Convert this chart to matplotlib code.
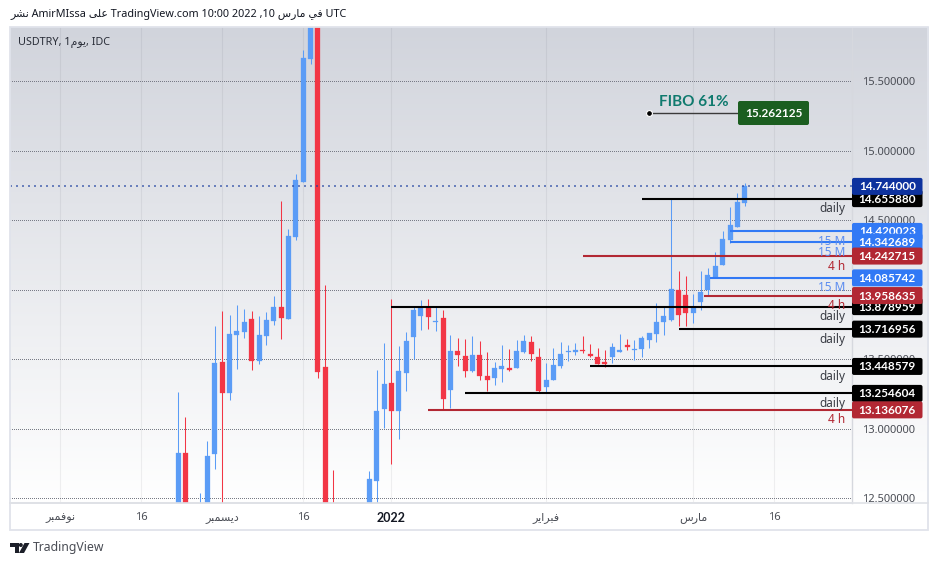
import numpy as np
import matplotlib
matplotlib.use('Agg')
import matplotlib.pyplot as plt
from matplotlib.patches import FancyBboxPatch, Rectangle, Circle, Polygon
from matplotlib.transforms import IdentityTransform

plt.rcParams['font.family'] = ['Noto Sans', 'DejaVu Sans']

W, H = 938, 566

# bar number counted in trading days from 1 Nov 2021
days = [16, 17, 19, 20, 21, 22, 23, 24, 25, 26, 27, 28, 29, 30, 31, 32, 33, 34, 35, 36, 37,
        42, 43, 44, 45, 46, 47, 48, 49, 50, 51, 52, 53, 54, 55, 56, 57, 58, 59, 60, 61, 62,
        63, 64, 65, 66, 67, 68, 69, 70, 71, 72, 73, 74, 75, 76, 77, 78, 79, 80, 81, 82, 83,
        84, 85, 86, 87, 88, 89, 90, 91, 92, 93]
opens = [12.30, 12.826, 12.30, 12.30, 12.819, 13.481, 13.258, 13.675, 13.697, 13.790, 13.488, 13.668,
         13.776, 13.876, 13.790, 14.380, 14.776, 15.661, 16.20, 13.445, 12.40,
         12.30, 12.625, 13.143, 13.330, 13.128, 13.402, 13.661, 13.812, 13.876, 13.768, 13.797,
         13.279, 13.560, 13.524, 13.416, 13.531, 13.380, 13.366, 13.430, 13.438, 13.438,
         13.553, 13.625, 13.517, 13.301, 13.351, 13.452, 13.553, 13.553, 13.567, 13.538, 13.517, 13.481,
         13.517, 13.553, 13.603, 13.567, 13.574, 13.639, 13.682, 13.768, 13.783,
         13.999, 13.963, 13.833, 13.912, 13.999, 14.085, 14.178, 14.358, 14.452, 14.625]
highs = [13.265, 13.085, 12.538, 12.912, 13.740, 13.848, 13.819, 13.891, 13.862, 13.848, 13.812, 13.840,
         13.956, 14.639, 14.438, 14.833, 15.725, 16.30, 16.30, 14.035, 12.704,
         12.697, 13.423, 13.617, 13.934, 13.596, 13.697, 13.884, 13.927, 13.934, 13.884, 13.855,
         13.675, 13.653, 13.646, 13.668, 13.632, 13.553, 13.481, 13.603, 13.574, 13.639,
         13.675, 13.668, 13.581, 13.474, 13.581, 13.625, 13.603, 13.617, 13.668, 13.610, 13.581, 13.567,
         13.617, 13.682, 13.646, 13.639, 13.668, 13.689, 13.905, 13.884, 14.661,
         14.135, 14.099, 13.970, 14.135, 14.157, 14.272, 14.423, 14.596, 14.697, 14.769]
lows = [12.20, 12.20, 12.20, 12.20, 12.711, 12.20, 13.207, 13.430, 13.653, 13.423, 13.466, 13.603,
        13.747, 13.646, 13.790, 14.358, 14.776, 15.625, 13.366, 12.20, 12.10,
        12.20, 12.30, 13.006, 12.747, 12.927, 13.272, 13.502, 13.711, 13.718, 13.704, 13.143,
        13.150, 13.452, 13.373, 13.409, 13.351, 13.272, 13.315, 13.337, 13.416, 13.438,
        13.545, 13.488, 13.258, 13.258, 13.351, 13.438, 13.488, 13.531, 13.545, 13.517, 13.466, 13.445,
        13.474, 13.553, 13.567, 13.495, 13.517, 13.581, 13.625, 13.675, 13.776,
        13.740, 13.740, 13.761, 13.855, 13.963, 14.085, 14.178, 14.337, 14.452, 14.603]
closes = [12.826, 12.30, 12.42, 12.805, 13.474, 13.258, 13.682, 13.704, 13.768, 13.488, 13.675, 13.783,
          13.876, 13.797, 14.387, 14.790, 15.668, 16.20, 13.409, 12.30, 12.20,
          12.639, 13.128, 13.322, 13.128, 13.416, 13.632, 13.855, 13.869, 13.804, 13.776, 13.215,
          13.560, 13.531, 13.416, 13.531, 13.380, 13.351, 13.438, 13.452, 13.423, 13.560,
          13.632, 13.538, 13.272, 13.351, 13.459, 13.538, 13.560, 13.567, 13.560, 13.524, 13.466, 13.466,
          13.589, 13.567, 13.589, 13.574, 13.653, 13.689, 13.768, 13.812, 14.006,
          13.819, 13.833, 13.876, 13.984, 14.107, 14.171, 14.366, 14.466, 14.632, 14.747]

# drawn levels, listed bottom badge first
level_prices = [13.878959, 14.655880, 13.716956, 13.448579, 13.254604, 14.420023, 14.342689,
                14.085742, 14.242715, 13.958635, 13.136076]
level_starts = [45, 79, 84, 72, 55, 91, 91, 88.3, 71, 87.4, 50]
level_kinds = ['daily', 'daily', 'daily', 'daily', 'daily', '15 M', '15 M', '15 M', '4 h', '4 h', '4 h']

last_price = 14.744
fibo_start = (80, 15.272)
fibo_end = (92.2, 15.272)
fibo_value = '15.262125'

price_ticks = [12.5, 13.0, 13.5, 14.0, 14.5, 15.0, 15.5]
# the 14.000000 scale label is not shown in the chart, the badges push it out
price_labels = ['12.500000', '13.000000', '13.500000', '', '14.500000', '15.000000', '15.500000']
date_ticks = [0, 11, 22, 33, 45, 66, 86, 97]
# Arabic month names in shaped visual order
date_labels = ['\ufeae\ufe92\ufee4\ufed3\ufeee\ufee7', '16',
               '\ufeae\ufe92\ufee4\ufeb4\ufef3\ufea9', '16', '2022',
               '\ufeae\ufef3\ufe8d\ufeae\ufe92\ufed3',
               '\ufeb1\ufead\ufe8e\ufee3', '16']

header = ('\ufeae\ufeb8\ufee7 AmirMIssa \ufef0\ufee0\ufecb TradingView.com 10:00 2022 ,10 '
          '\ufeb1\ufead\ufe8e\ufee3 \ufef2\ufed3 UTC')
symbol = 'USDTRY, 1\ufee1\ufeee\ufef3, IDC'

BLUE = '#5b9cf6'
RED = '#f23645'
kind_line = {'daily': '#000000', '15 M': '#3179f5', '4 h': '#b22833'}
kind_text = {'daily': '#3a3d45', '15 M': '#5b8cf0', '4 h': '#b22833'}

fig = plt.figure(figsize=(W / 100, H / 100), dpi=100, facecolor='white')

# gradient behind pane and price scale
ax_bg = fig.add_axes([10 / W, (H - 503) / H, 918 / W, 476.3 / H])
top_c = np.array([209, 212, 220]) / 255
grad = np.linspace(0, 1, 256)[:, None, None] * (1 - top_c) + top_c
ax_bg.imshow(grad, aspect='auto')
ax_bg.axis('off')

ax = fig.add_axes([10 / W, (H - 503) / H, 842 / W, 476.3 / H])
ax.patch.set_alpha(0)
ax.set_xlim(-6.834, 107.57)
ax.set_ylim(12.466, 15.893)

ax.set_yticks(price_ticks)
ax.set_yticklabels(price_labels)
ax.yaxis.tick_right()
ax.tick_params(axis='y', length=0, pad=7.5, labelsize=8, labelcolor='#4a4d55')
ax.set_xticks(date_ticks)
ax.set_xticklabels(date_labels)
ax.tick_params(axis='x', length=0, pad=6.5, labelsize=8, labelcolor='#4a4d55')
for lab in ax.get_xticklabels():
    if lab.get_text() == '2022':
        lab.set_family('Lato')
        lab.set_fontweight('bold')
        lab.set_fontsize(9)
        lab.set_color('#131722')

ax.grid(axis='x', color='#434651', alpha=0.08, lw=0.8)
ax.grid(axis='y', color='#787b86', lw=0.72, linestyle=(0, (1, 2)))
# keeps the dots crisp, they blur to a solid line otherwise
for gl in ax.yaxis.get_gridlines():
    gl.set_antialiased(False)
ax.set_axisbelow(True)
for s in ['top', 'left']:
    ax.spines[s].set_visible(False)
ax.spines['right'].set_color('#d6d8de')
ax.spines['bottom'].set_color('#dfe1e6')
ax.spines['right'].set_linewidth(1)
ax.spines['bottom'].set_linewidth(1.2)

# candles
days = np.array(days)
opens = np.array(opens)
closes = np.array(closes)
highs = np.array(highs)
lows = np.array(lows)
up = closes >= opens
ax.vlines(days[up], lows[up], highs[up], color=BLUE, lw=0.75, zorder=3)
ax.vlines(days[~up], lows[~up], highs[~up], color=RED, lw=0.75, zorder=3)
ax.bar(days[up], (closes - opens)[up], bottom=opens[up], width=0.68, color=BLUE,
       edgecolor=BLUE, lw=0.2, zorder=3)
ax.bar(days[~up], (closes - opens)[~up], bottom=opens[~up], width=0.68, color=RED,
       edgecolor=RED, lw=0.2, zorder=3)

# level lines and the small tag under each one
ytr = ax.get_yaxis_transform()
for price, start, kind in zip(level_prices, level_starts, level_kinds):
    ax.plot([start, 107.57], [price, price], color=kind_line[kind], lw=1.5, zorder=4,
            solid_capstyle='butt')
    ax.annotate(kind, xy=(1, price), xycoords=ytr, xytext=(-7, -10), textcoords='offset pixels',
                ha='right', va='center', fontsize=8.5, color=kind_text[kind], zorder=5)

ax.axhline(last_price, color='#1c3fa0', alpha=0.6, lw=1.44, linestyle=(0, (1, 2)), zorder=4)


def badge(x0, width, price, height, color, text, z, size=8.5):
    yc = ax.transData.transform((0, price))[1]
    box = FancyBboxPatch((x0, yc - height / 2), width, height,
                         boxstyle='round,pad=0,rounding_size=2', fc=color, ec='none',
                         transform=IdentityTransform(), clip_on=False, zorder=z)
    ax.add_patch(box)
    # text is cut by the badge drawn after it, same as on the chart
    ax.text(x0 + width / 2, yc - 0.5, text, transform=IdentityTransform(), color='white',
            ha='center', va='center', fontsize=size, clip_on=False, zorder=z + 1,
            family='Lato', fontweight='bold')


z = 10
for price, kind in zip(level_prices, level_kinds):
    badge(852, 70.5, price, 17, kind_line[kind], '%.6f' % price, z)
    z += 2
badge(852, 70.5, last_price, 17, '#0d329e', '%.6f' % last_price, z)

# fibo note
ax.plot([fibo_start[0], fibo_end[0]], [fibo_start[1], fibo_end[1]], color='#3a3a3a', lw=1, zorder=6)
ax.plot(*fibo_start, 'o', ms=4.2, mfc='black', mec='white', mew=0.8, zorder=7)
ax.text(81.4, 15.352, 'FIBO 61%', color='#0f7a6e', fontsize=11, family='Lato', fontweight='bold',
        ha='left', va='center', zorder=7)
badge(738, 71, fibo_end[1], 24, '#1b5e20', fibo_value, 8)

# outer frame
fig.add_artist(Rectangle((10, H - 530), 918, 503.5, fc='none', ec='#e0e3eb', lw=1.3,
                         transform=IdentityTransform()))
fig.add_artist(plt.Line2D([10, 928], [H - 503, H - 503], color='#dfe1e6', lw=1.2,
                          transform=IdentityTransform()))

# header and symbol
fig.text(10 / W, (H - 14) / H, header, fontsize=7.8, color='#131722', va='center', ha='left')
fig.text(18 / W, (H - 42) / H, symbol, fontsize=7.8, color='#2a2e39', va='center', ha='left')

# logo and wordmark
LOGO = '#1c1f29'
for art in [Polygon([(10, H - 543), (19, H - 543), (19, H - 553), (14.5, H - 553), (14.5, H - 547),
                     (10, H - 547)], fc=LOGO, transform=IdentityTransform()),
            Circle((20.8, H - 545), 2, fc=LOGO, transform=IdentityTransform()),
            Polygon([(24.5, H - 543), (29.5, H - 543), (24, H - 553), (19, H - 553)], fc=LOGO,
                    transform=IdentityTransform())]:
    fig.add_artist(art)
fig.text(33 / W, (H - 548) / H, 'TradingView', fontsize=8.8, color='#4a4d55', va='center', ha='left')

fig.savefig('out.png', dpi=100, facecolor='white')
